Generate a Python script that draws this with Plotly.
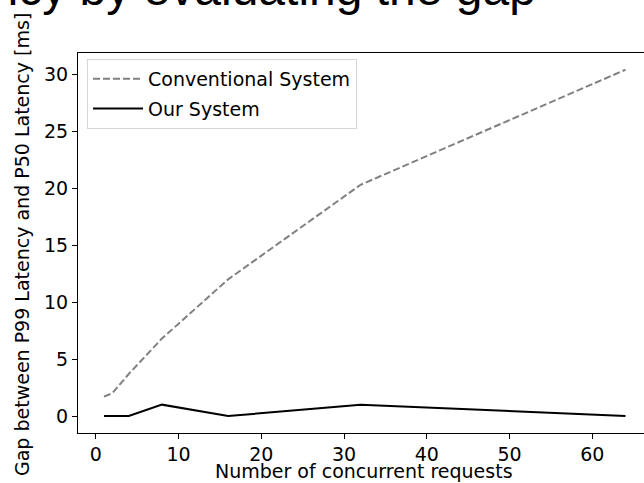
import plotly.graph_objects as go

# Data
concurrency = [1, 2, 4, 8, 16, 32, 64]
conventional_gap = [1.7, 2.0, 3.7, 6.8, 12.0, 20.3, 30.4]
our_gap = [0, 0, 0, 1, 0, 1, 0]

x_ticks = [0, 10, 20, 30, 40, 50, 60]
y_ticks = [0, 5, 10, 15, 20, 25, 30]

W, H = 644, 483
L, T, B = 78, 53, 50
plot_w = W - L
plot_h = H - T - B

FONT = "DejaVu Sans"
FS = 19

fig = go.Figure()
fig.add_trace(go.Scatter(
    x=concurrency, y=conventional_gap, mode="lines", name="Conventional System",
    line=dict(color="#808080", width=2, dash="7px,3px"), legendgroup="a"))
fig.add_trace(go.Scatter(
    x=concurrency, y=our_gap, mode="lines", name="Our System",
    line=dict(color="black", width=2), legendgroup="b"))

def px_x(p):
    return (p - L) / plot_w

def px_y(p):
    return (H - B - p) / plot_h

fig.update_layout(
    width=W, height=H,
    margin=dict(l=L, r=0, t=T, b=B, autoexpand=False),
    plot_bgcolor="white", paper_bgcolor="white",
    font=dict(family=FONT, size=FS, color="black"),
    showlegend=True,
    legend=dict(
        x=px_x(87), y=px_y(59), xanchor="left", yanchor="top",
        bgcolor="rgba(255,255,255,0.8)", bordercolor="#d6d6d6", borderwidth=1,
        font=dict(family=FONT, size=FS, color="black"),
        traceorder="grouped", tracegroupgap=2, itemwidth=50,
    ),
    xaxis=dict(
        range=[-2.14, 66.24], tickvals=x_ticks, ticktext=[str(v) for v in x_ticks],
        showgrid=False, zeroline=False, showline=True, linecolor="black", linewidth=1,
        mirror=True, ticks="outside", ticklen=5, tickwidth=1, tickcolor="black",
        tickfont=dict(family=FONT, size=FS, color="black"), ticklabelstandoff=-1,
    ),
    yaxis=dict(
        range=[-1.49, 31.87], tickvals=y_ticks, ticktext=[str(v) for v in y_ticks],
        showgrid=False, zeroline=False, showline=True, linecolor="black", linewidth=1,
        ticks="outside", ticklen=5, tickwidth=1, tickcolor="black",
        tickfont=dict(family=FONT, size=FS, color="black"),
    ),
    annotations=[
        dict(text="Number of concurrent requests", xref="paper", yref="paper",
             x=px_x(364), y=px_y(471), xanchor="center", yanchor="middle",
             showarrow=False, font=dict(family=FONT, size=FS, color="black")),
        dict(text="Gap between P99 Latency and P50 Latency [ms]", xref="paper", yref="paper",
             x=px_x(22), y=px_y(245), xanchor="center", yanchor="middle", textangle=-90,
             showarrow=False, font=dict(family=FONT, size=FS, color="black")),
        dict(text="reducing tail latency by evaluating the gap", xref="paper", yref="paper",
             x=px_x(538), y=px_y(17), xanchor="right", yanchor="bottom",
             showarrow=False, font=dict(family="Liberation Sans", size=48, color="black")),
    ],
)

fig.write_html("out.html", config={"displayModeBar": False},
               post_script="document.body.style.margin='0px';document.body.style.overflow='hidden';")
